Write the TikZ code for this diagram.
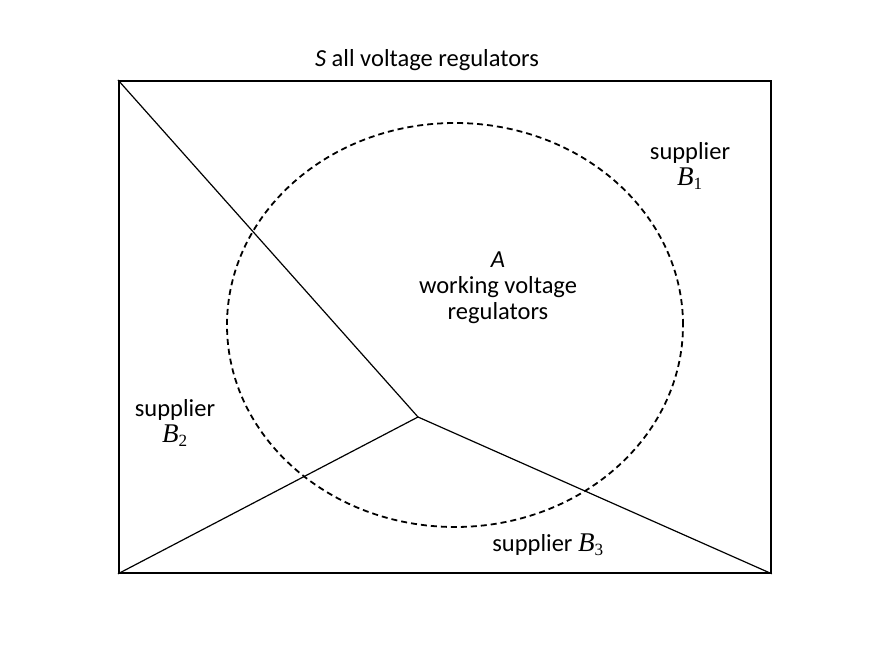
\documentclass[tikz,border=0pt]{standalone}
\usetikzlibrary{shapes.geometric}
\usepackage{fontspec}
\setmainfont{Carlito}
\newcommand{\bsub}[1]{\textit{\fontsize{27}{30}\selectfont\fontspec{Liberation Serif}B}\textsubscript{\fontspec{Liberation Serif}#1}}
\begin{document}
\begin{tikzpicture}[x=1pt,y=-1pt,
  lbl/.style={font=\fontsize{24.5}{27}\selectfont,align=center},
  edge/.style={line width=1.2pt}]
\useasboundingbox (0,0) rectangle (880,660);
\node[draw,line width=1.8pt,minimum width=652pt,minimum height=492pt,inner sep=0pt,anchor=north west] (S) at (118,80) {};
\node[draw,line width=1.8pt,dash pattern=on 6pt off 4pt,ellipse,minimum width=456pt,minimum height=404pt,inner sep=0pt] (A) at (455,325) {};
\coordinate (c) at (418,417);
\draw[edge] (S.north west) -- (c);
\draw[edge] (S.south west) -- (c);
\draw[edge] (S.south east) -- (c);
\node[lbl] (t) at (427,60) {\textit{S} all voltage regulators};
\node[lbl] (a) at (498,288) {\textit{A}\\[-1pt]working voltage\\[-1pt]regulators};
\node[lbl] (b1) at (690,166) {supplier\\[-1pt]\bsub{1}};
\node[lbl] (b2) at (175,423) {supplier\\[-1pt]\bsub{2}};
\node[lbl] (b3) at (548,545) {supplier \bsub{3}};
\end{tikzpicture}
\end{document}
